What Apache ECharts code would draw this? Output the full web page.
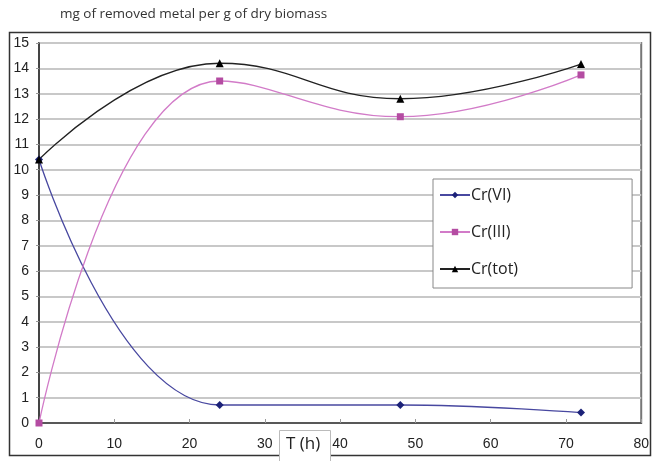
<!DOCTYPE html>
<html>
<head>
<meta charset="utf-8">
<script src="https://cdn.jsdelivr.net/npm/echarts@6/dist/echarts.min.js"></script>
<style>
  html, body { margin: 0; padding: 0; background: #fff; }
  #main { width: 652px; height: 461px; }
</style>
</head>
<body>
<div id="main"></div>
<script>
var hours = [0, 24, 48, 72];
var crVI = [10.4, 0.71, 0.71, 0.41];
var crIII = [0, 13.5, 12.09, 13.74];
var crTot = [10.4, 14.2, 12.8, 14.17];
var seriesNames = ['Cr(VI)', 'Cr(III)', 'Cr(tot)'];

function pairs(ys) {
  var out = [];
  for (var i = 0; i < hours.length; i++) out.push([hours[i], ys[i]]);
  return out;
}

var myChart = echarts.init(document.getElementById('main'));
var option = {
  animation: false,
  textStyle: { fontFamily: 'Liberation Sans, Arial, sans-serif' },
  graphic: [
    { type: 'rect', z: -10, shape: { x: 9.5, y: 32.5, width: 641, height: 423 },
      style: { fill: '#fff', stroke: '#333', lineWidth: 1.5 } },
    { type: 'text', left: 60, top: 7,
      style: { text: 'mg of removed metal per g of dry biomass', font: '13.5px "Open Sans", sans-serif', fill: '#333' } },
    { type: 'rect', z: 10, shape: { x: 279.5, y: 430.5, width: 51, height: 34 },
      style: { fill: '#fff', stroke: '#bbb', lineWidth: 1 } },
    { type: 'text', z: 11, left: 286, top: 436,
      style: { text: 'T (h)', font: '17px "Open Sans", sans-serif', fill: '#222' } }
  ],
  grid: {
    left: 39, right: 10, top: 43, bottom: 38,
    show: true, borderColor: '#777', borderWidth: 2, backgroundColor: '#fff'
  },
  legend: {
    data: seriesNames,
    orient: 'vertical',
    left: 433, top: 179,
    padding: [8, 114, 11, 6],
    itemGap: 21,
    itemWidth: 30, itemHeight: 8,
    backgroundColor: '#fff',
    borderColor: '#888', borderWidth: 1,
    textStyle: { fontSize: 16, color: '#222', fontFamily: '"Open Sans", sans-serif', padding: [0, 0, 0, -4] }
  },
  xAxis: {
    type: 'value', min: 0, max: 80, interval: 10,
    axisLine: { onZero: false, lineStyle: { color: '#333', width: 1.5 } },
    axisTick: { show: true, inside: true, length: 4, lineStyle: { color: '#999' } },
    axisLabel: { fontSize: 14, color: '#222', margin: 14 },
    splitLine: { show: false }
  },
  yAxis: {
    type: 'value', min: 0, max: 15, interval: 1,
    axisLine: { show: true, lineStyle: { color: '#333', width: 1.5 } },
    axisTick: { show: true, length: 3, lineStyle: { color: '#999' } },
    axisLabel: { fontSize: 14, color: '#222', margin: 10 },
    splitLine: { show: true, lineStyle: { color: '#c8c8c8', width: 2 } }
  },
  series: [
    { name: seriesNames[0], type: 'line', data: pairs(crVI), smooth: 0.45,
      symbol: 'diamond', symbolSize: 8,
      lineStyle: { color: '#4848a0', width: 1.3 },
      itemStyle: { color: '#1c2278' } },
    { name: seriesNames[1], type: 'line', data: pairs(crIII), smooth: 0.45,
      symbol: 'rect', symbolSize: 7,
      lineStyle: { color: '#d27bc8', width: 1.3 },
      itemStyle: { color: '#b44ca2' } },
    { name: seriesNames[2], type: 'line', data: pairs(crTot), smooth: 0.45,
      symbol: 'triangle', symbolSize: 8,
      lineStyle: { color: '#222', width: 1.3 },
      itemStyle: { color: '#000' } }
  ]
};
myChart.setOption(option);
</script>
</body>
</html>
